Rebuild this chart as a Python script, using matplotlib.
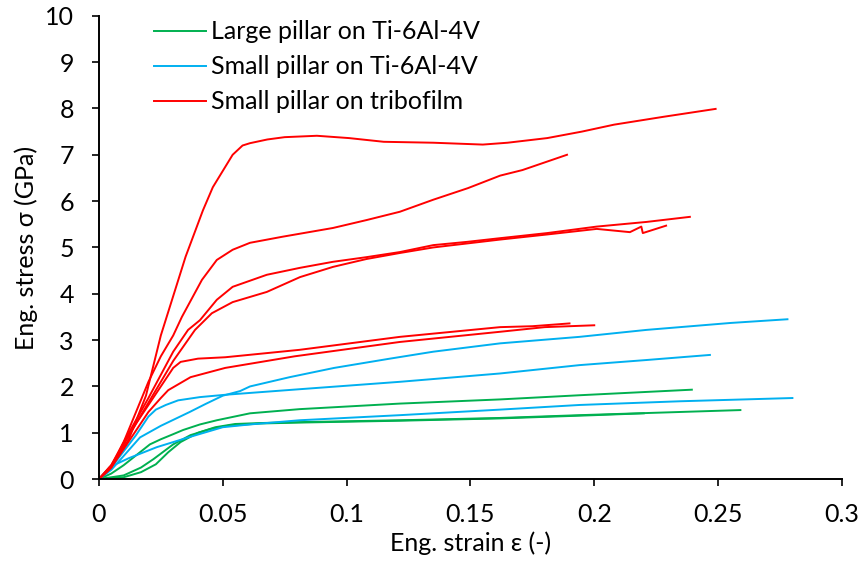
import matplotlib
matplotlib.use("Agg")
import matplotlib.pyplot as plt

plt.rcParams['font.family'] = ['Lato', 'DejaVu Sans']

# ---- data (strain, stress in GPa) ----
# Large pillar on Ti-6Al-4V (green)
g1_x = [0, 0.005, 0.010, 0.0166, 0.0206, 0.025, 0.030, 0.034, 0.0408, 0.0476, 0.061, 0.081, 0.1215, 0.162, 0.194, 0.2394]
g1_y = [0, 0.12, 0.30, 0.58, 0.75, 0.86, 0.97, 1.06, 1.18, 1.27, 1.42, 1.51, 1.63, 1.72, 1.81, 1.93]
g2_x = [0, 0.010, 0.017, 0.023, 0.028, 0.033, 0.040, 0.047, 0.055, 0.065, 0.081, 0.1215, 0.162, 0.194, 0.259]
g2_y = [0, 0.04, 0.15, 0.32, 0.58, 0.80, 1.00, 1.12, 1.19, 1.21, 1.23, 1.27, 1.32, 1.38, 1.49]
g3_x = [0, 0.010, 0.017, 0.022, 0.030, 0.037, 0.045, 0.052, 0.065, 0.081, 0.1215, 0.162, 0.200, 0.220]
g3_y = [0, 0.08, 0.25, 0.43, 0.75, 0.95, 1.08, 1.15, 1.20, 1.22, 1.26, 1.31, 1.38, 1.42]

# Small pillar on Ti-6Al-4V (blue)
b1_x = [0, 0.005, 0.010, 0.015, 0.020, 0.023, 0.027, 0.032, 0.0408, 0.051, 0.081, 0.1215, 0.162, 0.194, 0.221, 0.2467]
b1_y = [0, 0.25, 0.60, 0.95, 1.35, 1.50, 1.60, 1.70, 1.77, 1.82, 1.94, 2.10, 2.28, 2.46, 2.57, 2.68]
b2_x = [0, 0.005, 0.010, 0.0166, 0.025, 0.0367, 0.043, 0.050, 0.057, 0.061, 0.077, 0.095, 0.1175, 0.135, 0.162, 0.194, 0.221, 0.255, 0.278]
b2_y = [0, 0.20, 0.50, 0.90, 1.15, 1.45, 1.62, 1.80, 1.90, 2.00, 2.20, 2.40, 2.60, 2.75, 2.93, 3.07, 3.22, 3.37, 3.45]
b3_x = [0, 0.0044, 0.0120, 0.0234, 0.0367, 0.050, 0.061, 0.081, 0.1215, 0.162, 0.194, 0.2346, 0.280]
b3_y = [0, 0.26, 0.45, 0.69, 0.91, 1.12, 1.18, 1.27, 1.38, 1.50, 1.60, 1.68, 1.75]

# Small pillar on tribofilm (red)
r1_x = [0, 0.004, 0.012, 0.019, 0.025, 0.030, 0.035, 0.042, 0.046, 0.050, 0.054, 0.058, 0.061, 0.068,
        0.075, 0.088, 0.101, 0.115, 0.135, 0.155, 0.165, 0.181, 0.195, 0.208, 0.228, 0.249]
r1_y = [0, 0.20, 0.85, 1.80, 3.10, 3.95, 4.80, 5.80, 6.30, 6.65, 7.00, 7.20, 7.25, 7.33,
        7.38, 7.41, 7.36, 7.28, 7.26, 7.22, 7.26, 7.36, 7.50, 7.65, 7.82, 7.99]
r2_x = [0, 0.005, 0.010, 0.015, 0.020, 0.025, 0.030, 0.0335, 0.0416, 0.0476, 0.054, 0.061, 0.074,
        0.0945, 0.108, 0.1215, 0.135, 0.149, 0.162, 0.171, 0.189]
r2_y = [0, 0.25, 0.80, 1.45, 2.10, 2.65, 3.10, 3.50, 4.30, 4.73, 4.95, 5.10, 5.23,
        5.42, 5.59, 5.77, 6.03, 6.28, 6.55, 6.67, 7.00]
r3_x = [0, 0.005, 0.010, 0.020, 0.030, 0.036, 0.0408, 0.0476, 0.054, 0.0678, 0.0812, 0.0945, 0.108,
        0.1215, 0.135, 0.1486, 0.162, 0.181, 0.201, 0.221, 0.2386]
r3_y = [0, 0.30, 0.80, 1.75, 2.75, 3.22, 3.43, 3.87, 4.15, 4.41, 4.56, 4.69, 4.79,
        4.90, 5.05, 5.12, 5.20, 5.31, 5.45, 5.55, 5.66]
r4_x = [0, 0.005, 0.010, 0.020, 0.030, 0.0388, 0.0456, 0.054, 0.0678, 0.0812, 0.0945, 0.108, 0.1215,
        0.135, 0.162, 0.181, 0.201, 0.2144, 0.2190, 0.2196, 0.229]
r4_y = [0, 0.28, 0.75, 1.65, 2.55, 3.22, 3.58, 3.82, 4.04, 4.36, 4.58, 4.75, 4.88,
        5.00, 5.17, 5.28, 5.40, 5.33, 5.45, 5.31, 5.47]
r5_x = [0, 0.005, 0.010, 0.015, 0.020, 0.025, 0.030, 0.033, 0.040, 0.051, 0.081, 0.1215, 0.162, 0.175, 0.190]
r5_y = [0, 0.30, 0.75, 1.20, 1.60, 2.00, 2.40, 2.53, 2.60, 2.63, 2.79, 3.07, 3.28, 3.30, 3.36]
r6_x = [0, 0.005, 0.010, 0.015, 0.020, 0.025, 0.028, 0.037, 0.051, 0.079, 0.1215, 0.162, 0.180, 0.200]
r6_y = [0, 0.25, 0.65, 1.05, 1.45, 1.75, 1.92, 2.20, 2.40, 2.65, 2.96, 3.18, 3.28, 3.32]

series_names = ['Large pillar on Ti-6Al-4V', 'Small pillar on Ti-6Al-4V', 'Small pillar on tribofilm']
x_ticks = [0, 0.05, 0.1, 0.15, 0.2, 0.25, 0.3]
x_tick_labels = ['0', '0.05', '0.1', '0.15', '0.2', '0.25', '0.3']
y_ticks = list(range(0, 11))

GREEN = '#00B050'
BLUE = '#00B0F0'
RED = '#FF0000'

fig = plt.figure(figsize=(8.6, 5.63), dpi=100)
ax = fig.add_axes([0.115, 0.149, 0.864, 0.823])

lw = 1.4
groups = [
    (GREEN, [(g1_x, g1_y), (g2_x, g2_y), (g3_x, g3_y)]),
    (BLUE, [(b1_x, b1_y), (b2_x, b2_y), (b3_x, b3_y)]),
    (RED, [(r1_x, r1_y), (r2_x, r2_y), (r3_x, r3_y), (r4_x, r4_y), (r5_x, r5_y), (r6_x, r6_y)]),
]
handles = []
for (color, curves), name in zip(groups, series_names):
    for i, (xs, ys) in enumerate(curves):
        h, = ax.plot(xs, ys, color=color, lw=lw, label=name if i == 0 else None)
        if i == 0:
            handles.append(h)

ax.set_xlim(0, 0.3)
ax.set_ylim(0, 10)
ax.set_xticks(x_ticks)
ax.set_xticklabels(x_tick_labels)
ax.set_yticks(y_ticks)
for s in ['top', 'right']:
    ax.spines[s].set_visible(False)
for s in ['left', 'bottom']:
    ax.spines[s].set_linewidth(1.4)
ax.tick_params(axis='both', direction='out', length=5, width=1.2, labelsize=18)
ax.tick_params(axis='x', pad=12)
ax.tick_params(axis='y', pad=13)

ax.set_xlabel('Eng. strain ε (-)', fontsize=18, labelpad=4)
ax.set_ylabel('Eng. stress σ (GPa)', fontsize=18, labelpad=5)

ax.legend(handles=handles, loc='upper left', bbox_to_anchor=(0.074, 0.99), frameon=False,
          fontsize=18, handlelength=2.08, handletextpad=0.2, labelspacing=0.48, borderpad=0,
          borderaxespad=0)

fig.savefig('out.png', dpi=100)
